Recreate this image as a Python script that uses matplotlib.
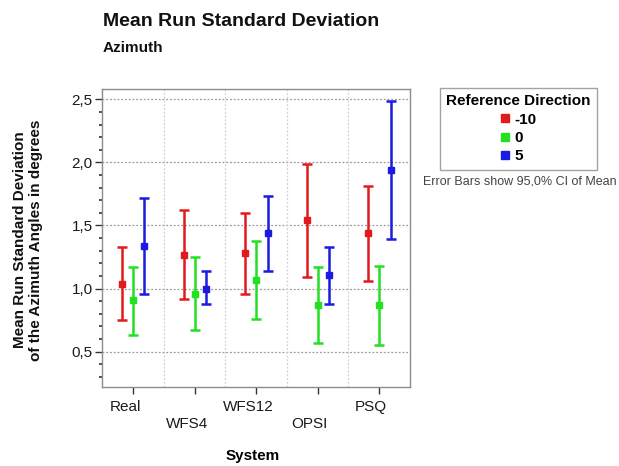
import matplotlib
matplotlib.use("Agg")
import matplotlib.pyplot as plt
import matplotlib.transforms as mtransforms
from matplotlib.lines import Line2D
from matplotlib.ticker import MultipleLocator, FuncFormatter

plt.rcParams['font.family'] = ['Liberation Sans', 'DejaVu Sans']

# Mean run standard deviation of azimuth angles with 95% CI, per system
systems = ["Real", "WFS4", "WFS12", "OPSI", "PSQ"]
directions = ["-10", "0", "5"]
colors = ["#e31a1c", "#22e022", "#1a1ae0"]

mean_m10 = [1.04, 1.27, 1.28, 1.54, 1.44]
low_m10 = [0.75, 0.92, 0.96, 1.09, 1.06]
high_m10 = [1.33, 1.62, 1.60, 1.99, 1.81]

mean_0 = [0.91, 0.96, 1.07, 0.87, 0.87]
low_0 = [0.63, 0.67, 0.76, 0.57, 0.55]
high_0 = [1.17, 1.25, 1.38, 1.17, 1.18]

mean_5 = [1.34, 1.00, 1.44, 1.11, 1.94]
low_5 = [0.96, 0.88, 1.14, 0.88, 1.39]
high_5 = [1.72, 1.14, 1.73, 1.33, 2.49]

means = [mean_m10, mean_0, mean_5]
lows = [low_m10, low_0, low_5]
highs = [high_m10, high_0, high_5]
offsets = [-0.175, 0.0, 0.185]

W, H = 619, 466
fig = plt.figure(figsize=(W / 100, H / 100), dpi=100)
ax = fig.add_axes([102.3 / W, 1 - 387.3 / H, (410 - 102.3) / W, (387.3 - 89.3) / H])

for m, lo, hi, off, c in zip(means, lows, highs, offsets, colors):
    xs = [i + off for i in range(len(systems))]
    yerr = [[mi - li for mi, li in zip(m, lo)], [hi_ - mi for mi, hi_ in zip(m, hi)]]
    ax.errorbar(xs, m, yerr=yerr, fmt='s', ms=5, color=c, ecolor=c,
                elinewidth=1.8, capsize=3.8, capthick=1.8, zorder=3)

ax.set_xlim(-0.5, 4.5)
ax.set_ylim(0.218, 2.579)

# grid
for yv in [0.5, 1.0, 1.5, 2.0, 2.5]:
    ax.axhline(yv, color="#9a9a9a", lw=0.9, ls=(0, (1.5, 1.5)), zorder=1)
for xv in [0.5, 1.5, 2.5, 3.5]:
    ax.axvline(xv, color="#d0d0d0", lw=0.9, ls=(0, (1.5, 1.5)), zorder=1)

for sp in ax.spines.values():
    sp.set_color("#8c8c8c")
    sp.set_linewidth(1.0)

ax.yaxis.set_major_locator(MultipleLocator(0.5))
ax.yaxis.set_minor_locator(MultipleLocator(0.1))
ax.yaxis.set_major_formatter(FuncFormatter(lambda v, p: f"{v:.1f}".replace(".", ",")))
ax.tick_params(axis='y', which='major', length=5, width=1, color="#333333",
               labelsize=11, pad=2, labelcolor="#1a1a1a")
ax.tick_params(axis='y', which='minor', length=2, width=1.2, color="#333333")

ax.set_xticks(range(len(systems)))
ax.set_xticklabels(systems)
ax.tick_params(axis='x', length=5, width=1, color="#333333", labelsize=11,
               pad=4, labelcolor="#1a1a1a")
# stagger alternate category labels onto a second row
for i, lab in enumerate(ax.get_xticklabels()):
    dy_px = -17.7 if i % 2 == 1 else 0.0
    lab.set_transform(lab.get_transform() +
                      mtransforms.ScaledTranslation(-8 / 100, dy_px / 100, fig.dpi_scale_trans))

ax.set_xlabel("System", fontsize=11, fontweight='bold', labelpad=0)
ax.xaxis.set_label_coords((253 - 102.3) / (410 - 102.3), -(456 - 387.3) / (387.3 - 89.3))
ax.xaxis.label.set_va('center')

fig.text(28 / W, 1 - 240 / H, "Mean Run Standard Deviation\nof the Azimuth Angles in degrees",
         rotation=90, ha='center', va='center', fontsize=11, fontweight='bold',
         linespacing=1.25, color="#111111")

fig.text(103 / W, 1 - 21 / H, "Mean Run Standard Deviation", fontsize=14,
         fontweight='bold', ha='left', va='center', color="#111111")
fig.text(103 / W, 1 - 48 / H, "Azimuth", fontsize=11, fontweight='bold',
         ha='left', va='center', color="#111111")

# legend
handles = [Line2D([], [], marker='s', ls='none', ms=6, color=c, markeredgecolor=c) for c in colors]
leg = fig.legend(handles, directions, title="Reference Direction",
                 loc='upper left', bbox_to_anchor=(440 / W, 1 - 88 / H),
                 borderaxespad=0,
                 frameon=True, fancybox=False, edgecolor="#8c8c8c",
                 prop={'size': 11, 'weight': 'bold'},
                 title_fontproperties={'size': 11, 'weight': 'bold'},
                 handlelength=0.6, handletextpad=0.3, labelspacing=0.28,
                 borderpad=0.42, alignment='center')
leg.get_frame().set_linewidth(1.0)

fig.text(520 / W, 1 - 182 / H, "Error Bars show 95,0% CI of Mean", fontsize=9,
         ha='center', va='center', color="#444444")

fig.savefig("out.png", dpi=100)
